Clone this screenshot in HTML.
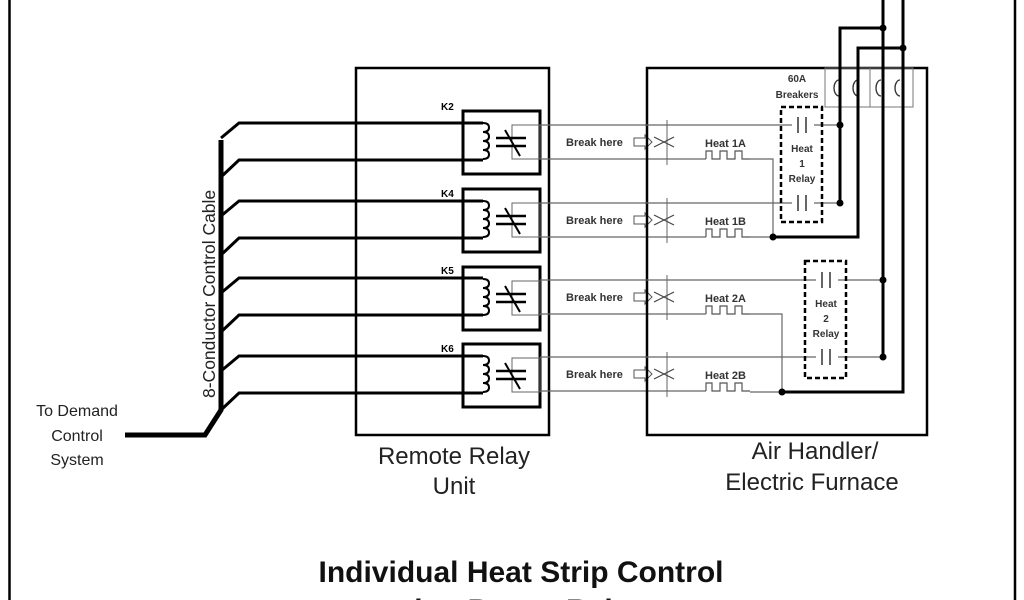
<!DOCTYPE html>
<html><head><meta charset="utf-8"><style>
html,body{margin:0;padding:0;background:#fff;width:1024px;height:600px;overflow:hidden}
svg{display:block}
text{font-family:"Liberation Sans",sans-serif}
</style></head><body>
<svg width="1024" height="600" viewBox="0 0 1024 600" xmlns="http://www.w3.org/2000/svg">
<defs>
<g id="relay">
  <rect x="463" y="0" width="77" height="63" fill="none" stroke="#000" stroke-width="3"/>
  <rect x="512" y="14" width="28" height="34" fill="none" stroke="#666" stroke-width="1"/>
  <path d="M483,12 q6,0 6,4.5 q0,4.5 -6,4.5 q6,0 6,4.5 q0,4.5 -6,4.5 q6,0 6,4.5 q0,4.5 -6,4.5 q6,0 6,4.5 q0,4.5 -6,4.5" fill="none" stroke="#000" stroke-width="2"/>
  <line x1="496" y1="27" x2="526" y2="27" stroke="#000" stroke-width="2.5"/>
  <line x1="496" y1="35" x2="526" y2="35" stroke="#000" stroke-width="2.5"/>
  <line x1="505" y1="19" x2="520" y2="45" stroke="#000" stroke-width="2"/>
</g>
<g id="wire">
  <path d="M221,15 L239,0 H483 M221,54 L239,37 H483" fill="none" stroke="#000" stroke-width="3"/>
</g>
<g id="brk">
  <line x1="540" y1="0" x2="646" y2="0" stroke="#666" stroke-width="1.2"/>
  <line x1="540" y1="34" x2="706" y2="34" stroke="#666" stroke-width="1.2"/>
  <line x1="667" y1="-5" x2="667" y2="40" stroke="#666" stroke-width="1"/>
  <text x="566" y="21" font-size="11" font-weight="bold" fill="#333">Break here</text>
  <path d="M634,13 H645 V10 L652,17 L645,24 V21 H634 Z" fill="#fff" stroke="#555" stroke-width="1"/>
  <path d="M654,12 L674,22 M654,22 L674,12" stroke="#444" stroke-width="1.2"/>
  <path d="M706,34 V26 H712 V34 H720 V26 H727 V34 H735 V26 H742 V34 H750" fill="none" stroke="#555" stroke-width="1.2"/>
</g>
</defs>

<line x1="9.5" y1="0" x2="9.5" y2="600" stroke="#000" stroke-width="2.5"/>
<line x1="1015" y1="0" x2="1015" y2="600" stroke="#000" stroke-width="2.5"/>

<!-- cable -->
<path d="M221,140 V410 L205,435 H125" fill="none" stroke="#000" stroke-width="5"/>
<text transform="translate(215,398) rotate(-90)" font-size="17.5" fill="#222">8-Conductor Control Cable</text>
<text x="77" y="416" font-size="16" text-anchor="middle" fill="#222">To Demand</text>
<text x="77" y="441" font-size="16" text-anchor="middle" fill="#222">Control</text>
<text x="77" y="465" font-size="16" text-anchor="middle" fill="#222">System</text>

<!-- remote relay box -->
<rect x="356" y="68" width="193" height="367" fill="none" stroke="#000" stroke-width="2.5"/>
<use href="#wire" transform="translate(0,123)"/>
<use href="#wire" transform="translate(0,201)"/>
<use href="#wire" transform="translate(0,278)"/>
<use href="#wire" transform="translate(0,356)"/>
<use href="#relay" transform="translate(0,111)"/>
<use href="#relay" transform="translate(0,189)"/>
<use href="#relay" transform="translate(0,267)"/>
<use href="#relay" transform="translate(0,344)"/>
<text x="441" y="110" font-size="10" font-weight="bold">K2</text>
<text x="441" y="197" font-size="10" font-weight="bold">K4</text>
<text x="441" y="274" font-size="10" font-weight="bold">K5</text>
<text x="441" y="352" font-size="10" font-weight="bold">K6</text>
<text x="454" y="464" font-size="24" text-anchor="middle" fill="#222">Remote Relay</text>
<text x="454" y="494" font-size="24" text-anchor="middle" fill="#222">Unit</text>

<!-- break lines -->
<use href="#brk" transform="translate(0,125)"/>
<use href="#brk" transform="translate(0,203)"/>
<use href="#brk" transform="translate(0,280)"/>
<use href="#brk" transform="translate(0,357)"/>
<text x="705" y="147" font-size="11" font-weight="bold" fill="#333">Heat 1A</text>
<text x="705" y="225" font-size="11" font-weight="bold" fill="#333">Heat 1B</text>
<text x="705" y="302" font-size="11" font-weight="bold" fill="#333">Heat 2A</text>
<text x="705" y="379" font-size="11" font-weight="bold" fill="#333">Heat 2B</text>

<!-- air handler -->
<rect x="647" y="68" width="280" height="367" fill="none" stroke="#000" stroke-width="2.5"/>
<text x="815" y="459" font-size="24" text-anchor="middle" fill="#222">Air Handler/</text>
<text x="812" y="490" font-size="24" text-anchor="middle" fill="#222">Electric Furnace</text>

<!-- breakers -->
<rect x="825" y="68" width="88" height="39" fill="none" stroke="#777" stroke-width="1"/>
<line x1="870" y1="68" x2="870" y2="107" stroke="#777" stroke-width="1"/>
<path d="M839,80 a5,8 0 0 0 0,16 M858,80 a5,8 0 0 0 0,16 M881,80 a5,8 0 0 0 0,16 M900,80 a5,8 0 0 0 0,16" fill="none" stroke="#333" stroke-width="1.3"/>
<text x="797" y="82" font-size="10" font-weight="bold" text-anchor="middle" fill="#333">60A</text>
<text x="797" y="98" font-size="10" font-weight="bold" text-anchor="middle" fill="#333">Breakers</text>

<g fill="none" stroke="#000" stroke-width="3">
<path d="M883,0 V357"/>
<path d="M903,0 V392 H782"/>
<path d="M883,28 H840 V203"/>
<path d="M903,48 H858 V237 H773"/>
</g>
<g fill="none" stroke="#666" stroke-width="1.2">
<path d="M646,125 H840"/>
<path d="M750,159 H773 V237"/>
<path d="M646,203 H840"/>
<path d="M646,280 H883"/>
<path d="M750,314 H782 V392"/>
<path d="M646,357 H883"/>
<path d="M750,237 H773 M750,392 H782"/>
</g>
<g fill="#000">
<circle cx="883" cy="28" r="3.5"/><circle cx="903" cy="48" r="3.5"/>
<circle cx="840" cy="125" r="3.5"/><circle cx="840" cy="203" r="3.5"/>
<circle cx="773" cy="237" r="3.5"/><circle cx="782" cy="392" r="3.5"/>
<circle cx="883" cy="280" r="3.5"/><circle cx="883" cy="357" r="3.5"/>
</g>
<!-- relay contacts -->
<g stroke="#333" stroke-width="1.5">
<rect x="792" y="118" width="22" height="14" fill="#fff" stroke="none"/>
<line x1="798" y1="117" x2="798" y2="133"/><line x1="806" y1="117" x2="806" y2="133"/>
<rect x="792" y="196" width="22" height="14" fill="#fff" stroke="none"/>
<line x1="798" y1="195" x2="798" y2="211"/><line x1="806" y1="195" x2="806" y2="211"/>
<rect x="816" y="273" width="22" height="14" fill="#fff" stroke="none"/>
<line x1="822" y1="272" x2="822" y2="288"/><line x1="830" y1="272" x2="830" y2="288"/>
<rect x="816" y="350" width="22" height="14" fill="#fff" stroke="none"/>
<line x1="822" y1="349" x2="822" y2="365"/><line x1="830" y1="349" x2="830" y2="365"/>
</g>
<rect x="781" y="107" width="41" height="115" fill="none" stroke="#000" stroke-width="2.5" stroke-dasharray="5,3"/>
<rect x="805" y="261" width="41" height="117" fill="none" stroke="#000" stroke-width="2.5" stroke-dasharray="5,3"/>
<g font-size="10" font-weight="bold" text-anchor="middle" fill="#333">
<text x="802" y="152">Heat</text><text x="802" y="167">1</text><text x="802" y="182">Relay</text>
<text x="826" y="307">Heat</text><text x="826" y="322">2</text><text x="826" y="337">Relay</text>
</g>

<text x="521" y="582" font-size="30" font-weight="bold" text-anchor="middle" fill="#111">Individual Heat Strip Control</text>
<text x="521" y="620" font-size="30" font-weight="bold" text-anchor="middle" fill="#111">using Power Relays</text>
</svg>
</body></html>
